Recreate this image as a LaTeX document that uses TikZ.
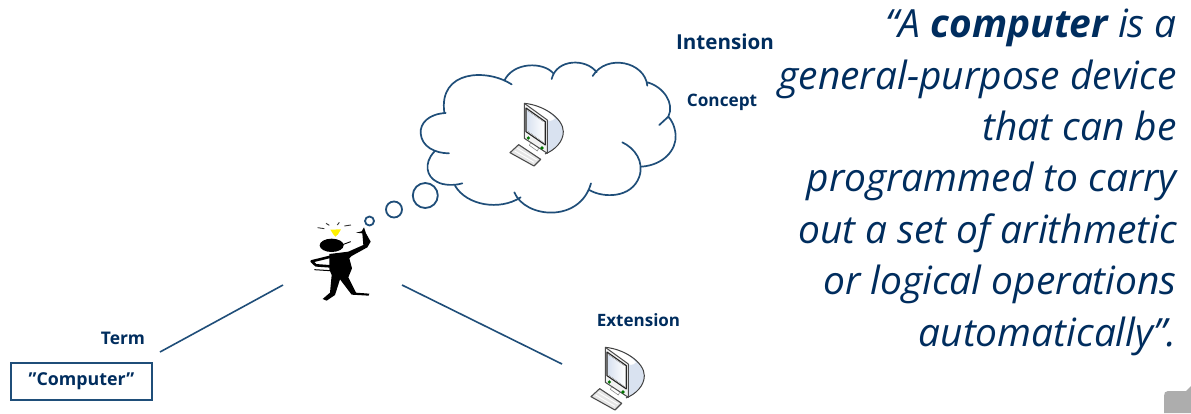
\documentclass[tikz,border=0pt]{standalone}
\usepackage{fontspec}
\setmainfont{Open Sans}
\definecolor{navy}{HTML}{002D5E}
\definecolor{linec}{HTML}{1F4E79}
\definecolor{monA}{HTML}{C9D6EA}
\tikzset{
  lbl/.style={text=navy,font=\bfseries\fontsize{#1}{#1}\selectfont,inner sep=0pt},
  wire/.style={draw=linec,line width=1.6pt},
  cloudline/.style={draw=linec,line width=1.7pt,line cap=round},
  bubble/.style={draw=linec,line width=1.8pt,circle,inner sep=0pt,fill=white},
}
\newcommand{\computer}[2]{%
\begin{scope}[shift={(#1,#2)},x=0.3333pt,y=-0.3333pt,line join=round]
 % body
 \fill[monA!70!white] (103,40) .. controls (160,45) and (220,85) .. (220,125) .. controls (220,155) and (195,180) .. (165,192) -- (162,85) -- cycle;
 \fill[white] (103,40) .. controls (140,44) and (175,62) .. (195,85) .. controls (185,95) and (175,95) .. (165,85) -- cycle;
 \draw[black!75,line width=1pt] (103,40) .. controls (160,45) and (220,85) .. (220,125) .. controls (220,155) and (195,180) .. (165,192);
 % front bezel
 \filldraw[fill=black!5,draw=black!70,line width=1pt] (103,40) -- (172,90) -- (172,190) -- (103,145) -- cycle;
 \filldraw[fill=black!10,draw=black!85,line width=1.1pt] (108,54) -- (166,95) -- (166,165) -- (108,125) -- cycle;
 \fill[left color=monA!70!white,right color=white] (112,62) -- (162,97) -- (162,158) -- (112,122) -- cycle;
 \fill[green!45!black] (115,144) circle (5.5);
 \fill[green!45!black] (156,174) circle (5.5);
 % stand
 \draw[black!45,line width=.6pt] (122,158) -- (118,166) -- (142,183) -- (146,175);
 % keyboard
 \filldraw[fill=black!10,draw=black!70,line width=1.1pt] (86,164) -- (152,208) -- (132,228) -- (60,188) -- cycle;
 \draw[white,line width=.9pt] (82,175) -- (140,210) (74,183) -- (132,217);
\end{scope}}
\begin{document}
\begin{tikzpicture}[x=1pt,y=-1pt]
\useasboundingbox (0,0) rectangle (1191,413);
\fill[white] (0,0) rectangle (1191,413);

% cloud
\begin{scope}[shift={(400,40)},x=0.3333pt,y=-0.3333pt]
 \draw[cloudline] (335,133) .. controls (260,85) and (115,90) .. (133,218);
 \draw[cloudline] (137,219) .. controls (85,222) and (60,250) .. (62,280) .. controls (65,320) and (105,340) .. (147,340);
 \draw[cloudline] (103,335) .. controls (70,370) and (80,410) .. (110,425) .. controls (130,437) and (165,437) .. (187,430);
 \draw[cloudline] (165,437) .. controls (200,497) and (300,513) .. (362,472);
 \draw[cloudline] (343,457) .. controls (375,535) and (540,550) .. (573,430);
 \draw[cloudline] (568,450) .. controls (610,475) and (695,475) .. (718,410) .. controls (733,365) and (705,325) .. (667,307);
 \draw[cloudline] (725,380) .. controls (790,375) and (830,330) .. (827,285) .. controls (825,260) and (815,240) .. (805,230) -- (778,255);
 \draw[cloudline] (805,230) .. controls (825,190) and (790,140) .. (742,127);
 \draw[cloudline] (742,137) .. controls (735,65) and (620,40) .. (578,108);
 \draw[cloudline] (590,97) .. controls (560,55) and (470,55) .. (455,117);
 \draw[cloudline] (460,100) .. controls (430,65) and (340,65) .. (313,122);
\end{scope}

% thought bubbles
\node[bubble,minimum size=25pt] (b1) at (425.3,195.5) {};
\node[bubble,minimum size=16pt] (b2) at (394,209.5) {};
\node[bubble,minimum size=9pt] (b3) at (369.5,221) {};

% computers
\computer{490}{90}
\computer{571}{334}

% person
\begin{scope}[shift={(280,200)},x=0.3333pt,y=-0.3333pt,line join=round]
 \fill[black] (155,136) ellipse (36 and 20);
 \fill[black] (148,162) -- (205,155) -- (250,135) -- (247,100) -- (228,98) -- (245,94) -- (252,82) -- (258,100) -- (272,125) -- (262,142) -- (215,168) -- (208,175) -- (216,205) -- (205,232) -- (228,278) -- (268,281) -- (266,287) -- (215,284) -- (180,238) -- (165,285) -- (140,302) -- (128,297) -- (150,278) -- (155,225) -- (148,208) -- cycle;
 \draw[black,line width=2.6pt,line cap=round] (152,170) -- (95,184) -- (108,196) -- (150,199);
 \draw[black,line width=1pt] (103,209) -- (150,212);
 \draw[black,line width=.9pt] (185,135) -- (212,125);
 \fill[yellow] (151,89) -- (183,88) -- (174,103) -- (166,110) -- (160,103) -- cycle;
 \draw[black!80,line width=.9pt] (113,83) -- (133,86) (138,70) -- (148,76) (172,75) -- (178,67) (193,78) -- (213,75);
\end{scope}

% anchors and connectors
\coordinate (termEnd) at (160,352);
\coordinate (personL) at (283,285);
\coordinate (personR) at (402,285);
\coordinate (extEnd) at (562,364);
\draw[wire] (termEnd) -- (personL);
\draw[wire] (personR) -- (extEnd);

% labels
\node[lbl=20.6,anchor=center] (intension) at (725,42) {Intension};
\node[lbl=17.2,anchor=center] (concept) at (722,102) {Concept};
\node[lbl=17,anchor=center] (extension) at (638.5,320) {Extension};
\node[lbl=17.4,anchor=center] (term) at (123,338) {Term};
\node[draw=linec,line width=2pt,minimum width=141pt,minimum height=37pt,inner sep=0pt,text=navy,font=\bfseries\fontsize{17.8}{17.8}\selectfont] (word) at (81.5,381) {”Computer”};

% quote
\node[anchor=north east,align=right,inner sep=0pt,text=navy,font=\itshape\fontsize{38.9}{51.4}\selectfont] (quote) at (1177,9)
 {“A \textbf{computer} is a\\general-purpose device\\that can be\\programmed to carry\\out a set of arithmetic\\or logical operations\\automatically”.};

% page corner
\fill[black!32] (1164,413) -- (1164,396) .. controls (1164,393) and (1165,391) .. (1168,391) -- (1186,391) -- (1191,386) -- (1191,413) -- cycle;
\end{tikzpicture}
\end{document}
